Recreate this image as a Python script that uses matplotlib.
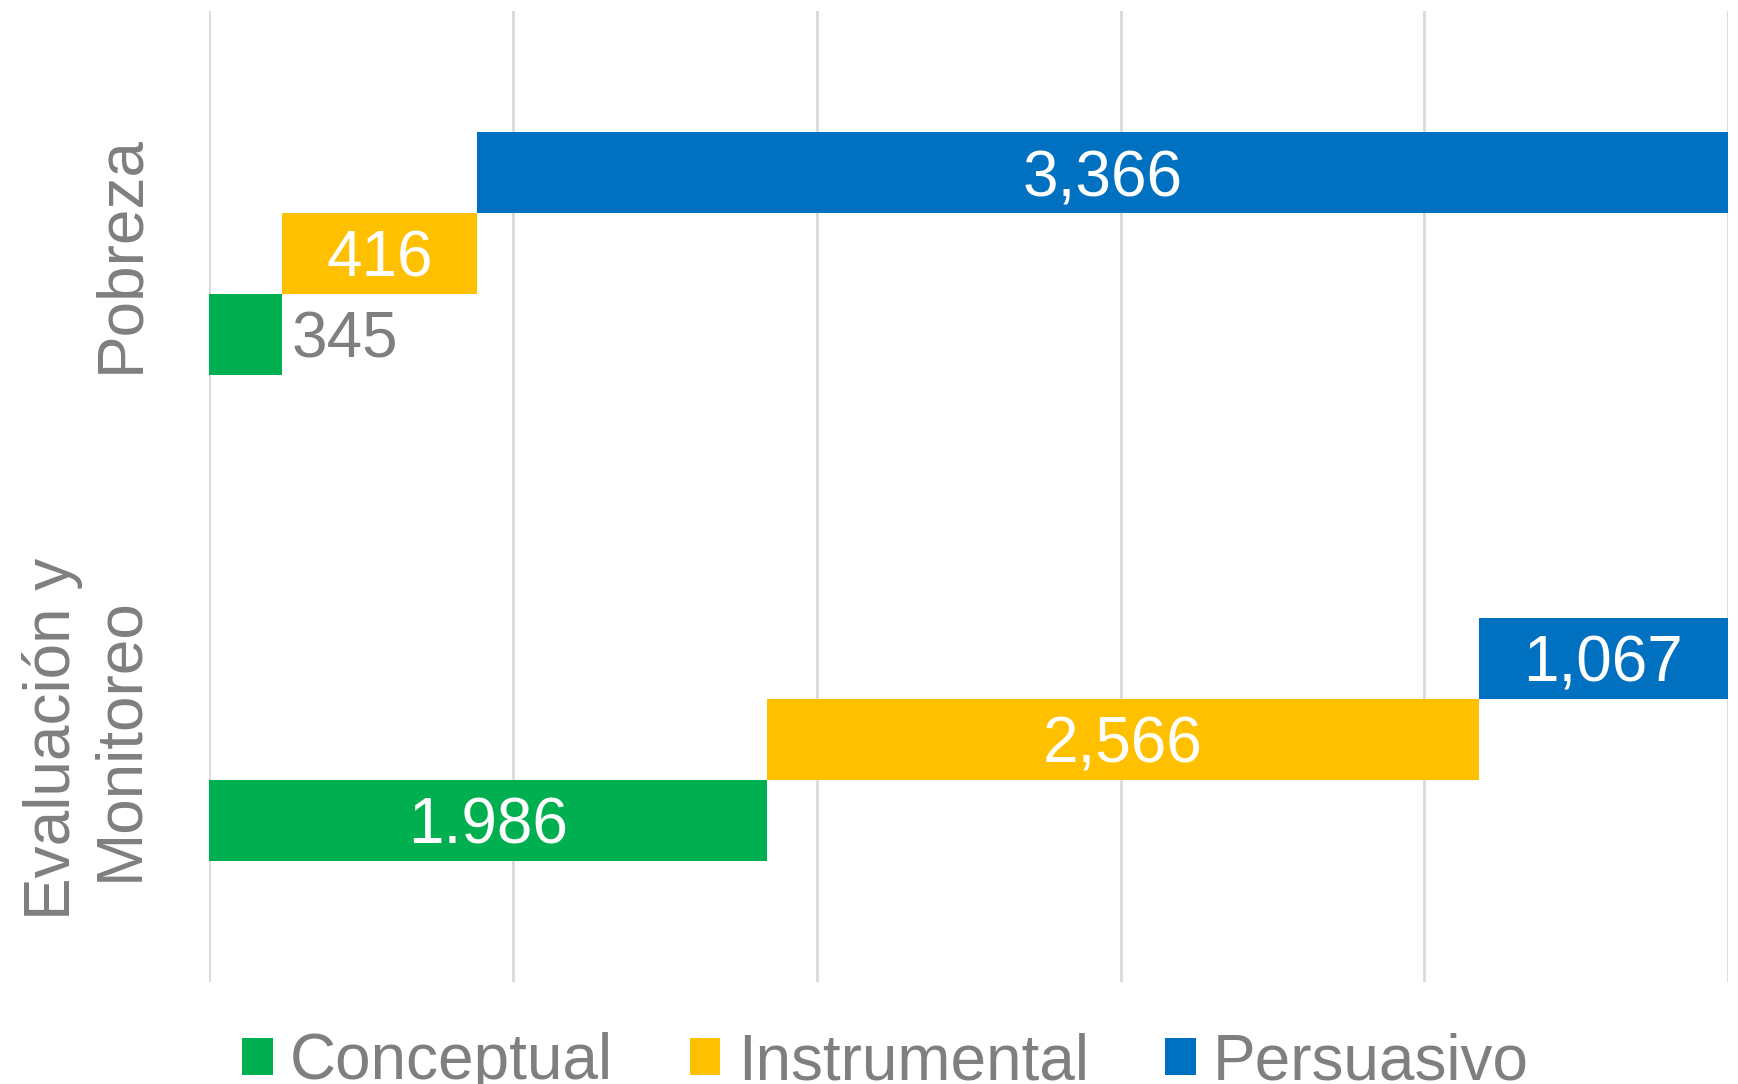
import matplotlib
matplotlib.use('Agg')
import matplotlib.pyplot as plt
from matplotlib.transforms import blended_transform_factory
from matplotlib.patches import Patch

plt.rcParams['font.family'] = ['Liberation Sans', 'DejaVu Sans']

# ---- data ----
categories = ['Evaluación y\nMonitoreo', 'Pobreza']
series = ['Conceptual', 'Instrumental', 'Persuasivo']
colors = ['#00B050', '#FFC000', '#0070C0']
x_max = 5000
x_ticks = [0, 1000, 2000, 3000, 4000, 5000]
# bar starts / lengths (axis units), per category [Eval, Pobreza]
conceptual_start = [0, 0]
conceptual_len = [1836, 239]
instrumental_start = [1836, 239]
instrumental_len = [2343, 642]
persuasivo_start = [4179, 881]
persuasivo_len = [821, 4119]
conceptual_lbl = ['1.986', '345']
instrumental_lbl = ['2,566', '416']
persuasivo_lbl = ['1,067', '3,366']
conceptual_inside = [True, False]
instrumental_inside = [True, True]
persuasivo_inside = [True, True]

starts = [conceptual_start, instrumental_start, persuasivo_start]
lens = [conceptual_len, instrumental_len, persuasivo_len]
lbls = [conceptual_lbl, instrumental_lbl, persuasivo_lbl]
inside = [conceptual_inside, instrumental_inside, persuasivo_inside]

grey = '#7F7F7F'
fs = 46

fig = plt.figure(figsize=(17.38, 10.84), dpi=100)
ax = fig.add_axes([0.1205, 0.0941, 0.9942 - 0.1205, 0.9899 - 0.0941])

h = 1 / 6
offsets = [-h, 0, h]
for s in range(3):
    ys = [i + offsets[s] for i in range(len(categories))]
    ax.barh(ys, lens[s], left=starts[s], height=h, color=colors[s],
            edgecolor='none', zorder=2, label=series[s])
    for i in range(len(categories)):
        l = starts[s][i]
        r = min(starts[s][i] + lens[s][i], x_max)
        if inside[s][i]:
            ax.annotate(lbls[s][i], ((l + r) / 2, ys[i]), xytext=(0, -4.5),
                        textcoords='offset points', ha='center', va='center',
                        color='white', fontsize=fs, zorder=3)
        else:
            ax.annotate(lbls[s][i], (r, ys[i]), xytext=(7, -4.5), textcoords='offset points',
                        ha='left', va='center', color=grey, fontsize=fs, zorder=3)

ax.set_xlim(0, x_max)
ax.set_ylim(-0.5, 1.5)
ax.set_xticks(x_ticks)
ax.set_yticks([])
ax.tick_params(axis='x', length=0, labelbottom=False)
ax.grid(axis='x', color='#D9D9D9', linewidth=2, zorder=0)
ax.set_axisbelow(True)
for sp in ax.spines.values():
    sp.set_visible(False)

tr = blended_transform_factory(fig.transFigure, ax.transData)
cat_x = [0.0495, 0.0695]
for i, c in enumerate(categories):
    ax.text(cat_x[i], i, c, transform=tr, rotation=90, ha='center', va='center',
            multialignment='center', color=grey, fontsize=fs, linespacing=1.15)

handles = [Patch(facecolor=colors[s], edgecolor='none') for s in range(3)]
fig.legend(handles, series, loc='center left', bbox_to_anchor=(242 / 1738, 0.0199),
           ncol=3, frameon=False, fontsize=fs, handlelength=0.48, handleheight=0.52,
           handletextpad=0.27, columnspacing=1.2, borderpad=0, borderaxespad=0,
           labelcolor=grey)

fig.savefig('out.png', dpi=100)
